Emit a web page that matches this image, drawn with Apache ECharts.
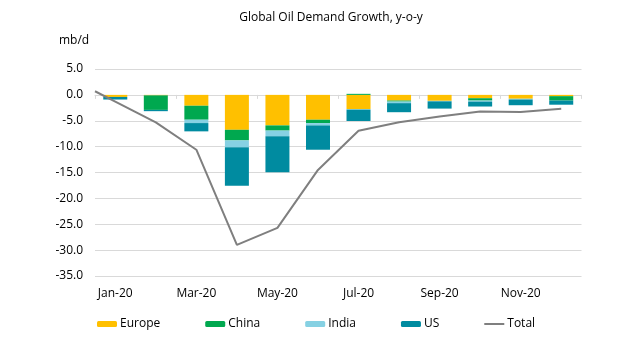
<!DOCTYPE html>
<html>
<head>
<meta charset="utf-8">
<script src="https://cdn.jsdelivr.net/npm/echarts@6/dist/echarts.min.js"></script>
<style>html,body{margin:0;padding:0;background:#fff}#c{width:631px;height:355px}</style>
</head>
<body>
<div id="c"></div>
<script>
var categories = ['Jan-20','Feb-20','Mar-20','Apr-20','May-20','Jun-20','Jul-20','Aug-20','Sep-20','Oct-20','Nov-20','Dec-20'];
var europe = [-0.4, -0.1, -2.1, -6.75, -5.9, -4.8, -2.75, -1.1, -1.15, -0.65, -0.75, -0.25];
var china  = [0, -2.8, -2.7, -2.05, -1.0, -0.65, 0.2, -0.2, 0, -0.45, 0, -0.85];
var india  = [0, 0, -0.65, -1.3, -1.1, -0.45, -0.1, -0.3, -0.1, -0.2, -0.15, 0];
var us     = [-0.5, -0.25, -1.6, -7.45, -6.95, -4.7, -2.2, -1.75, -1.4, -0.95, -1.1, -0.8];
var totalX = [-0.5, 0, 1, 2, 3, 4, 5, 6, 7, 8, 9, 10, 11];
var total  = [0.7, -1.3, -5.3, -10.6, -29.0, -25.7, -14.5, -6.95, -5.3, -4.2, -3.2, -3.3, -2.7];
var yTicks = {min: -35, max: 5, interval: 5};

var font = '"Open Sans", "Noto Sans", sans-serif';
var chart = echarts.init(document.getElementById('c'), null, {renderer: 'canvas'});
var barCommon = {type: 'bar', stack: 'd', barWidth: 24, xAxisIndex: 0, yAxisIndex: 0};
var lineIcon = 'path://M0,0 L20,0 L20,0.01 L0,0.01 Z M0,2 L20,2 L20,4 L0,4 Z M0,5.99 L20,5.99 L20,6 L0,6 Z';
chart.setOption({
  animation: false,
  textStyle: {fontFamily: font},
  title: [
    {text: 'Global Oil Demand Growth, y-o-y', left: 326, top: 7, textAlign: 'center',
     textStyle: {fontFamily: font, fontSize: 12, fontWeight: 'normal', color: '#000'}},
    {text: 'mb/d', left: 54, top: 30,
     textStyle: {fontFamily: font, fontSize: 12, fontWeight: 'normal', color: '#000'}}
  ],
  legend: {
    left: 97, top: 318, padding: 0, itemWidth: 20, itemHeight: 6, itemGap: 45,
    textStyle: {fontFamily: font, fontSize: 12, color: '#000', padding: [0,0,0,-2]},
    data: ['Europe','China','India','US',{name: 'Total', icon: lineIcon}]
  },
  grid: {left: 95, right: 49.5, top: 69, bottom: 79},
  xAxis: [
    {type: 'category', data: categories, position: 'bottom',
     axisLine: {show: false, onZero: false}, axisTick: {show: false},
     axisLabel: {interval: 1, color: '#000', fontSize: 12, fontFamily: font, margin: 12},
     splitLine: {show: false}},
    {type: 'category', data: categories, position: 'bottom',
     axisLine: {show: true, onZero: true, lineStyle: {color: '#d9d9d9', width: 1}},
     axisTick: {show: true, interval: 1, length: 4, lineStyle: {color: '#d9d9d9'}},
     axisLabel: {show: false}, splitLine: {show: false}},
    {type: 'value', min: -0.5, max: 11.5, show: false}
  ],
  yAxis: {
    type: 'value', min: yTicks.min, max: yTicks.max, interval: yTicks.interval,
    axisLine: {show: false}, axisTick: {show: false},
    axisLabel: {color: '#000', fontSize: 12, fontFamily: font, margin: 12,
      formatter: function (v) { return v.toFixed(1); }},
    splitLine: {lineStyle: {color: '#d9d9d9', width: 1}}
  },
  series: [
    Object.assign({name: 'Europe', data: europe, itemStyle: {color: '#FFC000'}}, barCommon),
    Object.assign({name: 'China', data: china, itemStyle: {color: '#00A84F'}}, barCommon),
    Object.assign({name: 'India', data: india, itemStyle: {color: '#86D1E3'}}, barCommon),
    Object.assign({name: 'US', data: us, itemStyle: {color: '#008BA0'}}, barCommon),
    {name: 'Total', type: 'line', xAxisIndex: 2, yAxisIndex: 0, symbol: 'none',
     data: totalX.map(function (x, i) { return [x, total[i]]; }),
     lineStyle: {color: '#7F7F7F', width: 2}, itemStyle: {color: '#7F7F7F'}, z: 5}
  ]
});
</script>
</body>
</html>
